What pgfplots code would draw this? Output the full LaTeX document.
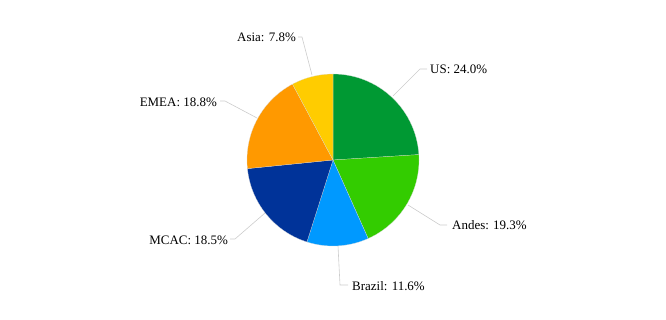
\documentclass[border=0pt]{standalone}
\usepackage{pgfplots}
\pgfplotsset{compat=1.18}
\usepackage{fontspec}
\setmainfont{Liberation Serif}
\definecolor{cUS}{HTML}{009933}
\definecolor{cAndes}{HTML}{33CC00}
\definecolor{cBrazil}{HTML}{0099FF}
\definecolor{cMCAC}{HTML}{003399}
\definecolor{cEMEA}{HTML}{FF9900}
\definecolor{cAsia}{HTML}{FFCC00}
\definecolor{leader}{HTML}{CCCCCC}
\tikzset{lab/.style={font=\fontsize{13}{15}\selectfont, inner sep=0pt, text=black}}
\begin{document}
\begin{tikzpicture}
\begin{axis}[
  scale only axis, width=666bp, height=320bp,
  xmin=-333, xmax=333, ymin=-160, ymax=160,
  hide axis, clip=false,
]
\path (rel axis cs:0,0) rectangle (rel axis cs:1,1);
% Slices: angle (deg), radius; shares US 24.0, Andes 19.3, Brazil 11.6, MCAC 18.5, EMEA 18.8, Asia 7.8 (%)
\addplot[fill=cUS, draw=white!85!black, line width=0.2pt, data cs=polar] coordinates {
 (0,0) (90,86) (87,86) (84,86) (81,86) (78,86) (75,86) (72,86) (69,86) (66,86) (63,86) (60,86)
 (57,86) (54,86) (51,86) (48,86) (45,86) (42,86) (39,86) (36,86) (33,86) (30,86) (27,86)
 (24,86) (21,86) (18,86) (15,86) (12,86) (9,86) (6,86) (3.6,86)} -- cycle;
\addplot[fill=cAndes, draw=white!85!black, line width=0.2pt, data cs=polar] coordinates {
 (0,0) (3.6,86) (0,86) (-3,86) (-6,86) (-9,86) (-12,86) (-15,86) (-18,86) (-21,86) (-24,86)
 (-27,86) (-30,86) (-33,86) (-36,86) (-39,86) (-42,86) (-45,86) (-48,86) (-51,86) (-54,86)
 (-57,86) (-60,86) (-63,86) (-65.88,86)} -- cycle;
\addplot[fill=cBrazil, draw=white!85!black, line width=0.2pt, data cs=polar] coordinates {
 (0,0) (-65.88,86) (-69,86) (-72,86) (-75,86) (-78,86) (-81,86) (-84,86) (-87,86) (-90,86)
 (-93,86) (-96,86) (-99,86) (-102,86) (-105,86) (-107.64,86)} -- cycle;
\addplot[fill=cMCAC, draw=white!85!black, line width=0.2pt, data cs=polar] coordinates {
 (0,0) (-107.64,86) (-111,86) (-114,86) (-117,86) (-120,86) (-123,86) (-126,86) (-129,86)
 (-132,86) (-135,86) (-138,86) (-141,86) (-144,86) (-147,86) (-150,86) (-153,86) (-156,86)
 (-159,86) (-162,86) (-165,86) (-168,86) (-171,86) (-174.24,86)} -- cycle;
\addplot[fill=cEMEA, draw=white!85!black, line width=0.2pt, data cs=polar] coordinates {
 (0,0) (-174.24,86) (-177,86) (-180,86) (-183,86) (-186,86) (-189,86) (-192,86) (-195,86)
 (-198,86) (-201,86) (-204,86) (-207,86) (-210,86) (-213,86) (-216,86) (-219,86) (-222,86)
 (-225,86) (-228,86) (-231,86) (-234,86) (-237,86) (-240,86) (-241.92,86)} -- cycle;
\addplot[fill=cAsia, draw=white!85!black, line width=0.2pt, data cs=polar] coordinates {
 (0,0) (-241.92,86) (-243,86) (-246,86) (-249,86) (-252,86) (-255,86) (-258,86) (-261,86)
 (-264,86) (-267,86) (-270,86)} -- cycle;
% leader lines
\addplot[leader, line width=0.6pt] coordinates {(-21,85) (-31,123) (-35,123)};
\addplot[leader, line width=0.6pt] coordinates {(60,64) (87,91) (94,91)};
\addplot[leader, line width=0.6pt] coordinates {(75,-45) (107,-65) (114,-65)};
\addplot[leader, line width=0.6pt] coordinates {(5,-86) (7,-125) (15,-125)};
\addplot[leader, line width=0.6pt] coordinates {(-68,-53) (-98,-79) (-103,-79)};
\addplot[leader, line width=0.6pt] coordinates {(-76,42) (-108,59) (-113,59)};
% labels
\node[lab, anchor=east] at (axis cs:-37,123) {Asia: 7.8\%};
\node[lab, anchor=west] at (axis cs:97,91) {US: 24.0\%};
\node[lab, anchor=west] at (axis cs:119,-65) {Andes: 19.3\%};
\node[lab, anchor=west] at (axis cs:19,-126) {Brazil: 11.6\%};
\node[lab, anchor=east] at (axis cs:-105,-80) {MCAC: 18.5\%};
\node[lab, anchor=east] at (axis cs:-116,58) {EMEA: 18.8\%};
\end{axis}
\end{tikzpicture}
\end{document}
